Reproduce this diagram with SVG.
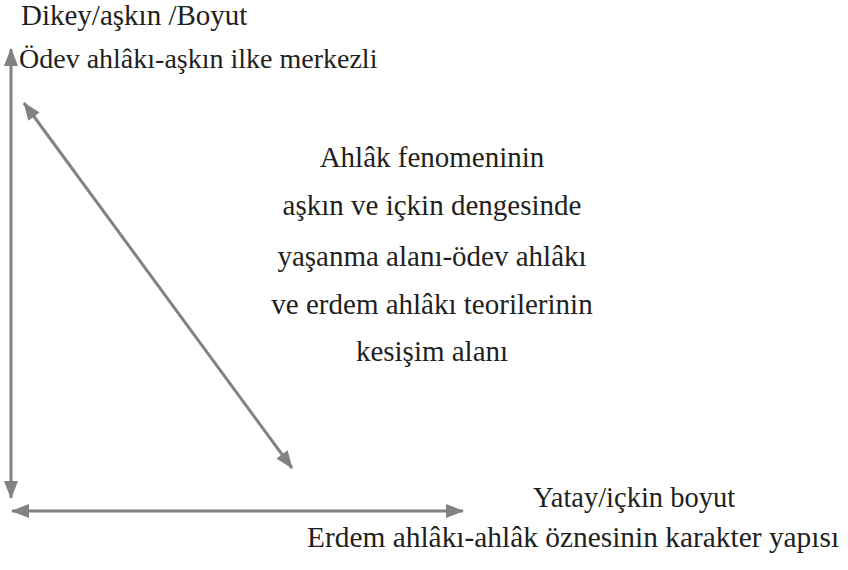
<svg xmlns="http://www.w3.org/2000/svg" width="848" height="570" viewBox="0 0 848 570">
<style>
.t{font-size:29px;fill:#231f20}
.c{text-anchor:middle}
.ln{stroke:#808285;stroke-width:3;fill:none}
</style>
<defs>
<marker id="ah" markerUnits="userSpaceOnUse" markerWidth="18" markerHeight="16" viewBox="0 0 18 16" refX="17" refY="8" orient="auto-start-reverse">
<path d="M0,1 L18,8 L0,15 Z" fill="#808285"/>
</marker>
</defs>
<rect width="848" height="570" fill="#fff"/>
<g id="connectors">
<line class="ln" x1="11" y1="49" x2="11" y2="498" marker-start="url(#ah)" marker-end="url(#ah)"/>
<line class="ln" x1="12" y1="511" x2="463" y2="511" marker-start="url(#ah)" marker-end="url(#ah)"/>
<line class="ln" x1="24" y1="103" x2="292" y2="468" marker-start="url(#ah)" marker-end="url(#ah)"/>
</g>
<g id="vertical-label">
<text class="t" font-family="Liberation Serif" x="21" y="25">Dikey/aşkın /Boyut</text>
<text class="t" font-family="Liberation Serif" style="font-size:28px" x="19" y="68">Ödev ahlâkı-aşkın ilke merkezli</text>
</g>
<g id="center-label">
<text class="t c" font-family="Liberation Serif" x="432" y="167">Ahlâk fenomeninin</text>
<text class="t c" font-family="Liberation Serif" x="432" y="215">aşkın ve içkin dengesinde</text>
<text class="t c" font-family="Liberation Serif" x="432" y="266">yaşanma alanı-ödev ahlâkı</text>
<text class="t c" font-family="Liberation Serif" x="432" y="314">ve erdem ahlâkı teorilerinin</text>
<text class="t c" font-family="Liberation Serif" x="432" y="361">kesişim alanı</text>
</g>
<g id="horizontal-label">
<text class="t" font-family="Liberation Serif" style="font-size:28.5px" x="533" y="507">Yatay/içkin boyut</text>
<text class="t" font-family="Liberation Serif" style="font-size:29.4px" x="307" y="547">Erdem ahlâkı-ahlâk öznesinin karakter yapısı</text>
</g>
</svg>
